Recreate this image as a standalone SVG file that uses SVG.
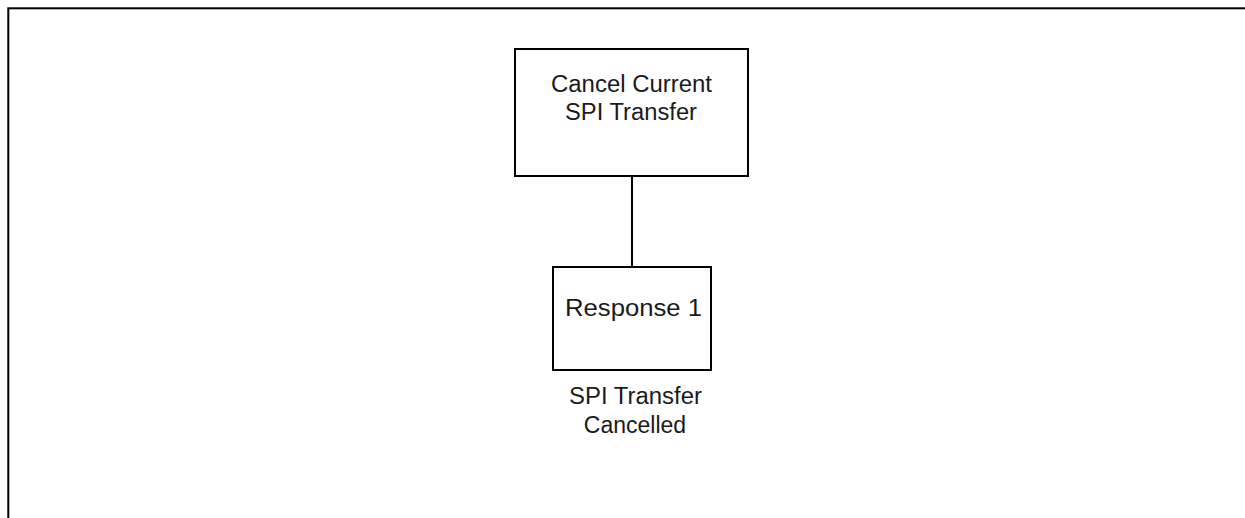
<svg xmlns="http://www.w3.org/2000/svg" width="1245" height="518" viewBox="0 0 1245 518">
<style>
.box{fill:#fff;stroke:#000;stroke-width:2}
.frame{fill:none;stroke:#000;stroke-width:2}
.t{font-family:"Liberation Sans",Arial,sans-serif;font-size:23px;fill:#1a1a1a}
.c{stroke:#000;stroke-width:2;fill:none}
</style>
<rect x="0" y="0" width="1245" height="518" fill="#fff"/>
<rect class="frame" x="8.3" y="8.3" width="1300" height="600"/>
<g id="connectors">
<line class="c" x1="632" y1="176" x2="632" y2="267"/>
</g>
<g id="node-cancel">
<rect class="box" x="515" y="49" width="233" height="127"/>
<text class="t" x="551" y="91.5" textLength="161" lengthAdjust="spacingAndGlyphs">Cancel Current</text>
<text class="t" x="565" y="120" textLength="132" lengthAdjust="spacingAndGlyphs">SPI Transfer</text>
</g>
<g id="node-response">
<rect class="box" x="553" y="267" width="158" height="103"/>
<text class="t" x="565" y="316" textLength="137" lengthAdjust="spacingAndGlyphs">Response 1</text>
</g>
<g id="label-cancelled">
<text class="t" x="569" y="404" textLength="133" lengthAdjust="spacingAndGlyphs">SPI Transfer</text>
<text class="t" x="635" y="433" text-anchor="middle">Cancelled</text>
</g>
</svg>
